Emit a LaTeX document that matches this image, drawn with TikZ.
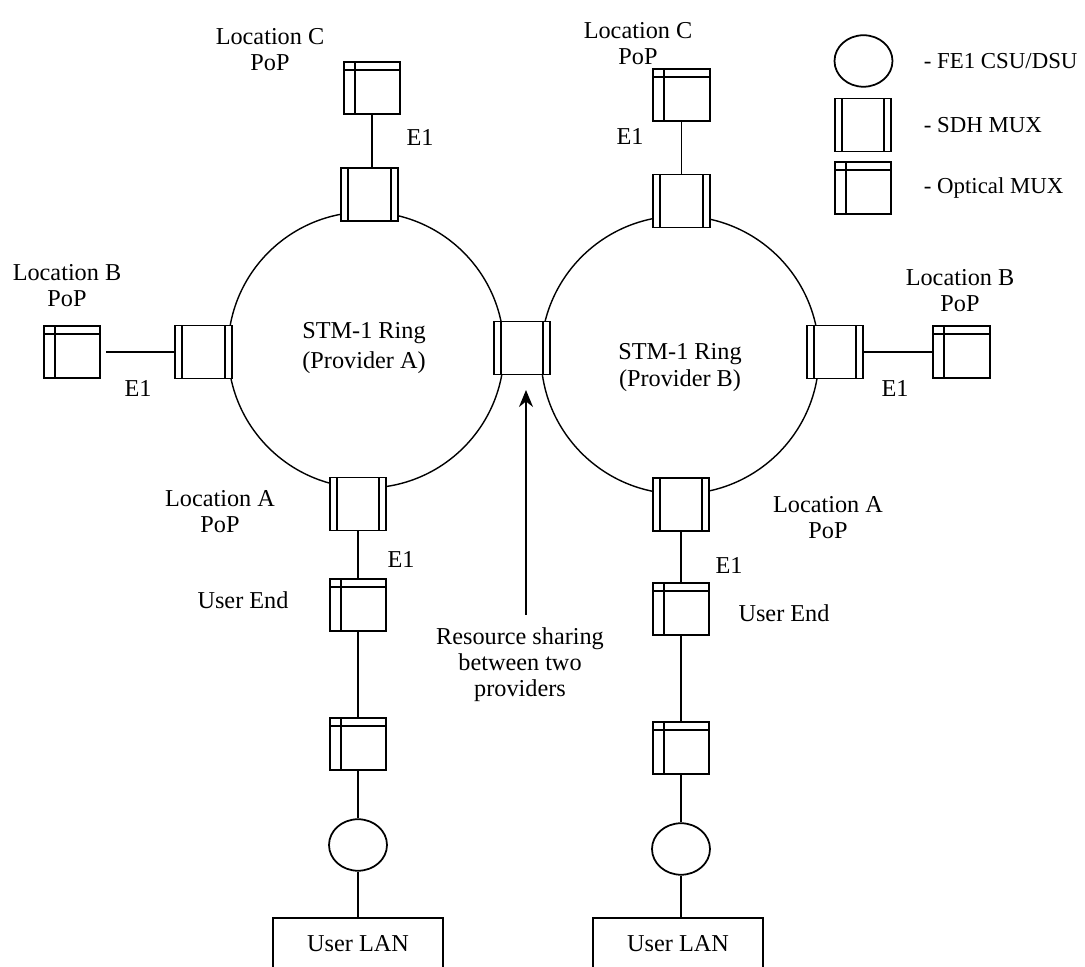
\documentclass[tikz,border=0pt]{standalone}
\usepackage{fontspec}
\setmainfont{Liberation Serif}
\usetikzlibrary{arrows.meta, shapes.geometric}

\begin{document}
\begin{tikzpicture}[
      every node/.style={font=\fontsize{13.8}{14.7}\selectfont, align=center, inner sep=0pt},
      ring/.style={draw, circle, line width=0.8pt, minimum size=#1},
      sdhmux/.style={draw, fill=white, minimum width=1.13cm, minimum height=1.06cm,
        path picture={
          \draw ([xshift=0.14cm]path picture bounding box.north west) -- ([xshift=0.14cm]path picture bounding box.south west);
          \draw ([xshift=-0.14cm]path picture bounding box.north east) -- ([xshift=-0.14cm]path picture bounding box.south east);
        }},
      optmux/.style={draw, fill=white, minimum width=1.13cm, minimum height=1.03cm,
        path picture={
          \draw ([xshift=0.22cm]path picture bounding box.north west) -- ([xshift=0.22cm]path picture bounding box.south west);
          \draw ([yshift=-0.16cm]path picture bounding box.north west) -- ([yshift=-0.16cm]path picture bounding box.north east);
        }},
      csu/.style={draw, fill=white, ellipse, minimum width=1.16cm, minimum height=1.03cm},
      lan/.style={draw, fill=white, minimum width=3.4cm, minimum height=1.04cm},
      key/.style={anchor=west, font=\fontsize{13}{14.7}\selectfont},
      >=Stealth,
      line width=1pt,
    ]
    \useasboundingbox (0, 0) rectangle (21.7, 19.34);

    % Rings
    \node[ring=5.52cm] (ringA) at (7.32, 12.34) {};
    \node[ring=5.56cm] (ringB) at (13.6, 12.24) {};
    \node (nameA) at (7.28, 12.38) {STM-1 Ring\\[2.3pt](Provider A)};
    \node (nameB) at (13.60, 11.98) {STM-1 Ring\\[0.6pt](Provider B)};

    % Provider A
    \node[sdhmux] (muxAc) at (7.39, 15.45) {};
    \node[sdhmux] (muxAb) at (4.07, 12.30) {};
    \node[sdhmux] (muxAa) at (7.16, 9.26) {};
    \node[optmux] (optAc) at (7.44, 17.58) {};
    \node[optmux] (optAb) at (1.44, 12.30) {};
    \node[optmux] (optAu) at (7.16, 7.24) {};
    \node[optmux] (optAl) at (7.16, 4.46) {};
    \node[csu] (csuA) at (7.16, 2.44) {};
    \node[lan] (lanA) at (7.16, 0.46) {User LAN};

    % Provider B
    \node[sdhmux] (muxBc) at (13.63, 15.32) {};
    \node[sdhmux] (muxBb) at (16.70, 12.30) {};
    \node[sdhmux] (muxBa) at (13.62, 9.25) {};
    \node[optmux] (optBc) at (13.63, 17.44) {};
    \node[optmux] (optBb) at (19.23, 12.30) {};
    \node[optmux] (optBu) at (13.62, 7.16) {};
    \node[optmux] (optBl) at (13.62, 4.38) {};
    \node[csu] (csuB) at (13.62, 2.36) {};
    \node[lan] (lanB) at (13.56, 0.46) {User LAN};

    \node[sdhmux] (muxS) at (10.44, 12.38) {};

    \draw (optAc) -- (optAc |- muxAc.north);
    \draw[shorten <=0.1cm] (optAb) -- (muxAb);
    \draw (muxAa) -- (optAu);
    \draw (optAu) -- (optAl);
    \draw (optAl) -- (csuA);
    \draw (csuA) -- (lanA);

    \draw (optBc) -- (muxBc);
    \draw (muxBb) -- (optBb);
    \draw (muxBa) -- (optBu);
    \draw (optBu) -- (optBl);
    \draw (optBl) -- (csuB);
    \draw (csuB) -- (csuB |- lanB.north);

    % Labels
    \node (locAc) at (5.40, 18.34) {Location C\\PoP};
    \node (locBc) at (12.76, 18.46) {Location C\\PoP};
    \node (locAb) at (1.34, 13.62) {Location B\\PoP};
    \node (locBb) at (19.20, 13.52) {Location B\\PoP};
    \node (locAa) at (4.40, 9.10) {Location A\\PoP};
    \node (locBa) at (16.56, 8.98) {Location A\\PoP};
    \node (eAc) at (8.40, 16.58) {E1};
    \node (eBc) at (12.60, 16.60) {E1};
    \node (eAb) at (2.76, 11.56) {E1};
    \node (eBb) at (17.90, 11.56) {E1};
    \node (eAa) at (8.02, 8.14) {E1};
    \node (eBa) at (14.58, 8.02) {E1};
    \node (endA) at (4.86, 7.34) {User End};
    \node (endB) at (15.68, 7.08) {User End};

    % Annotation
    \node (share) at (10.40, 6.04) {Resource sharing\\between two\\providers};
    \coordinate (shareFoot) at (10.52, 7.04);
    \coordinate (shareTip) at (10.52, 11.54);
    \draw[-{Stealth[length=0.34cm, width=0.28cm]}] (shareFoot) -- (shareTip);

    % Legend
    \node[csu] (keyCsu) at (17.27, 18.12) {};
    \node[sdhmux] (keySdh) at (17.26, 16.84) {};
    \node[optmux] (keyOpt) at (17.26, 15.58) {};
    \node[key] (txtCsu) at (18.46, 18.12) {- FE1 CSU/DSU};
    \node[key] (txtSdh) at (18.46, 16.84) {- SDH MUX};
    \node[key] (txtOpt) at (18.46, 15.58) {- Optical MUX};
  \end{tikzpicture}
\end{document}
